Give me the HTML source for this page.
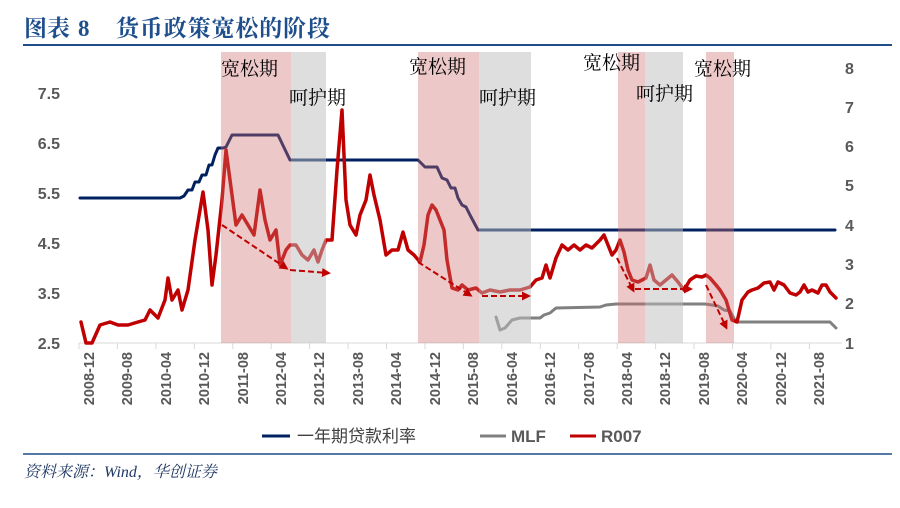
<!DOCTYPE html><html><head><meta charset="utf-8"><style>body{margin:0;background:#fff}svg{display:block}</style></head><body>
<svg width="900" height="508" xmlns="http://www.w3.org/2000/svg" font-family="Liberation Sans, Noto Sans CJK SC, sans-serif">
<g font-size="23" font-weight="bold" fill="#1f4e8c" font-family="Liberation Serif, Noto Serif CJK SC, serif">
<text x="24" y="36">图表</text><text x="78" y="36">8</text><text x="116" y="36" textLength="214">货币政策宽松的阶段</text></g>
<line x1="23" y1="45" x2="892" y2="45" stroke="#1f4e8c" stroke-width="2"/>
<g fill="#595959" font-size="16" font-weight="bold">
<text x="60" y="99" text-anchor="end">7.5</text><text x="60" y="149" text-anchor="end">6.5</text><text x="60" y="199" text-anchor="end">5.5</text><text x="60" y="249" text-anchor="end">4.5</text><text x="60" y="299" text-anchor="end">3.5</text><text x="60" y="349" text-anchor="end">2.5</text>
<text x="845" y="74">8</text><text x="845" y="113">7</text><text x="845" y="152">6</text><text x="845" y="191">5</text><text x="845" y="231">4</text><text x="845" y="270">3</text><text x="845" y="309">2</text><text x="845" y="349">1</text>
</g>
<line x1="79" y1="343" x2="842" y2="343" stroke="#d9d9d9"/>
<g stroke="#d9d9d9">
<path d="M79 343v6M117.4 343v6M155.9 343v6M194.3 343v6M232.8 343v6M271.2 343v6M309.6 343v6M348.1 343v6M386.5 343v6M425 343v6M463.4 343v6M501.8 343v6M540.3 343v6M578.7 343v6M617.2 343v6M655.6 343v6M694 343v6M732.5 343v6M770.9 343v6M809.4 343v6"/>
</g>
<g fill="#595959" font-size="14.5" font-weight="bold">
<text transform="translate(94,352) rotate(-90)" text-anchor="end">2008-12</text>
<text transform="translate(132,352) rotate(-90)" text-anchor="end">2009-08</text>
<text transform="translate(171,352) rotate(-90)" text-anchor="end">2010-04</text>
<text transform="translate(209,352) rotate(-90)" text-anchor="end">2010-12</text>
<text transform="translate(248,352) rotate(-90)" text-anchor="end">2011-08</text>
<text transform="translate(286,352) rotate(-90)" text-anchor="end">2012-04</text>
<text transform="translate(324,352) rotate(-90)" text-anchor="end">2012-12</text>
<text transform="translate(363,352) rotate(-90)" text-anchor="end">2013-08</text>
<text transform="translate(401,352) rotate(-90)" text-anchor="end">2014-04</text>
<text transform="translate(440,352) rotate(-90)" text-anchor="end">2014-12</text>
<text transform="translate(478,352) rotate(-90)" text-anchor="end">2015-08</text>
<text transform="translate(517,352) rotate(-90)" text-anchor="end">2016-04</text>
<text transform="translate(555,352) rotate(-90)" text-anchor="end">2016-12</text>
<text transform="translate(594,352) rotate(-90)" text-anchor="end">2017-08</text>
<text transform="translate(632,352) rotate(-90)" text-anchor="end">2018-04</text>
<text transform="translate(670,352) rotate(-90)" text-anchor="end">2018-12</text>
<text transform="translate(709,352) rotate(-90)" text-anchor="end">2019-08</text>
<text transform="translate(747,352) rotate(-90)" text-anchor="end">2020-04</text>
<text transform="translate(786,352) rotate(-90)" text-anchor="end">2020-12</text>
<text transform="translate(824,352) rotate(-90)" text-anchor="end">2021-08</text>
</g>
<g fill="none" stroke-linejoin="round" stroke-linecap="round">
<polyline stroke="#002060" stroke-width="3" points="80,198 180,198 184,196 188,190 192,190 195,182 199,182 202,175 206,175 209,165 212,165 215,155 218,148 223,148 226,147 232,135 278,135 290,160 418,160 425,167 437,167 442,178 447,180 451,188 455,188 458,198 462,205 466,207 470,215 478,230 835,230"/>
<polyline stroke="#808080" stroke-width="3" points="496,317 500,330 505,328 512,320 520,318 540,318 544,315 550,313 556,308 600,307 606,305 616,304 705,304 712,305 718,306 724,310 730,311 736,322 830,322 836,328"/>
<polyline stroke="#c00000" stroke-width="3.5" points="81,322 86,343 92,343 100,325 110,322 118,325 128,325 138,322 145,320 150,310 158,318 165,300 168,278 172,300 178,290 182,310 188,290 195,240 203,192 208,230 212,285 216,255 222,200 226,150 230,180 236,225 242,215 248,225 254,235 260,190 265,220 270,240 276,230 280,265 286,250 290,245 296,245 302,255 308,260 314,250 318,262 322,250 326,240 332,240 337,170 342,110 346,200 350,225 356,235 360,215 366,200 370,175 374,195 380,220 386,255 392,250 398,250 403,232 408,250 414,255 420,262 424,245 428,215 432,205 436,210 440,220 444,230 447,260 452,288 458,290 462,285 468,290 476,288 482,293 490,290 500,292 510,290 520,290 530,287 536,280 542,278 546,265 550,278 556,258 562,245 568,250 574,245 580,250 586,245 592,248 600,240 604,235 606,240 612,255 616,250 620,240 624,252 628,270 632,280 638,282 646,278 650,265 654,280 660,285 666,280 672,275 678,282 684,290 690,280 696,276 702,277 706,275 710,278 716,285 720,290 726,300 732,320 737,322 742,300 748,292 752,290 758,288 764,283 770,282 774,290 778,282 784,285 790,293 796,295 800,292 804,285 808,292 812,290 818,293 822,285 826,285 830,292 836,298"/>
</g>
<g>
<rect x="221" y="52" width="70" height="291" fill="rgb(205,110,110)" fill-opacity="0.38"/>
<rect x="291" y="52" width="35" height="291" fill="rgb(190,190,190)" fill-opacity="0.5"/>
<rect x="418" y="52" width="61" height="291" fill="rgb(205,110,110)" fill-opacity="0.38"/>
<rect x="479" y="52" width="52" height="291" fill="rgb(190,190,190)" fill-opacity="0.5"/>
<rect x="618" y="52" width="27" height="291" fill="rgb(205,110,110)" fill-opacity="0.38"/>
<rect x="645" y="52" width="38" height="291" fill="rgb(190,190,190)" fill-opacity="0.5"/>
<rect x="706" y="52" width="28" height="291" fill="rgb(205,110,110)" fill-opacity="0.38"/>
</g>
<defs><marker id="a" markerWidth="9" markerHeight="9" refX="6" refY="4.5" orient="auto" markerUnits="userSpaceOnUse"><path d="M0,0L9,4.5L0,9z" fill="#c00000"/></marker></defs>
<g stroke="#c00000" stroke-width="2" stroke-dasharray="6,3" marker-end="url(#a)">
<line x1="222" y1="225" x2="286" y2="268"/>
<line x1="290" y1="270" x2="328" y2="273"/>
<line x1="418" y1="262" x2="470" y2="295"/>
<line x1="482" y1="296" x2="528" y2="296"/>
<line x1="617" y1="258" x2="633" y2="290"/>
<line x1="635" y1="289" x2="690" y2="289"/>
<line x1="706" y1="285" x2="726" y2="327"/>
</g>
<g font-size="19" fill="#000" font-family="Liberation Serif, Noto Serif CJK SC, serif">
<text x="221" y="75">宽松期</text><text x="289" y="104">呵护期</text>
<text x="409" y="73">宽松期</text><text x="479" y="104">呵护期</text>
<text x="583" y="69">宽松期</text><text x="636" y="100">呵护期</text>
<text x="694" y="75">宽松期</text>
</g>
<g font-size="17" font-weight="bold" fill="#595959">
<line x1="262" y1="436" x2="290" y2="436" stroke="#002060" stroke-width="3"/><text x="297" y="442" font-weight="normal" fill="#404040">一年期贷款利率</text>
<line x1="480" y1="436" x2="506" y2="436" stroke="#808080" stroke-width="3"/><text x="511" y="442">MLF</text>
<line x1="570" y1="436" x2="596" y2="436" stroke="#c00000" stroke-width="3"/><text x="601" y="442">R007</text>
</g>
<line x1="23" y1="454" x2="892" y2="454" stroke="#1f4e8c" stroke-width="1.5"/>
<text x="24" y="477" font-size="16" font-style="italic" fill="#1f3864" font-family="Liberation Serif, Noto Serif CJK SC, serif">资料来源：Wind，华创证券</text>
</svg>
</body></html>
